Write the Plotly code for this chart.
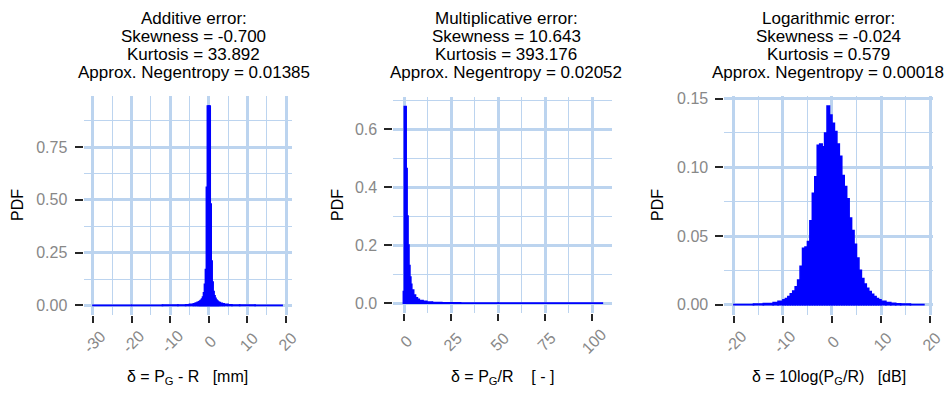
import numpy as np
import plotly.graph_objects as go

# ---------------- data ----------------
# Additive error histogram: bin edges [mm] and density
add_edges = [-30, -20, -12, -8, -6, -5, -4, -3.5, -3, -2.625,
             -2.375, -2.125, -1.875, -1.625, -1.375, -1.125, -0.875, -0.625, -0.375, -0.125,
             0.125, 0.375, 0.625, 0.875, 1.125, 1.375, 1.625, 1.875, 2.125, 2.375,
             2.625, 3, 3.5, 4, 5, 6, 8, 12, 19]
add_density = [0.0003, 0.0006, 0.001, 0.002, 0.003, 0.005, 0.008, 0.011, 0.014,
               0.017, 0.020, 0.024, 0.030, 0.040, 0.060, 0.100, 0.170, 0.560, 0.944,
               0.944, 0.944, 0.480, 0.210, 0.110, 0.065, 0.045, 0.033, 0.025, 0.020, 0.016,
               0.013, 0.010, 0.007, 0.005, 0.003, 0.002, 0.001, 0.0004]

# Multiplicative error histogram: bin edges [-] and density
mul_edges = [-0.5, 0.0, 1.0, 1.5, 2.0, 2.5, 3.0, 3.5, 4.0, 5.0, 6.0, 7.0, 8.0,
             10, 12, 15, 20, 30, 50, 105.5]
mul_density = [0.04, 0.678, 0.464, 0.30, 0.20, 0.13, 0.09, 0.065, 0.045, 0.028,
               0.018, 0.013, 0.009, 0.006, 0.004, 0.002, 0.001, 0.0005, 0.0002]

# Logarithmic error histogram: bin edges [dB] and density
log_edges = [-20, -16, -14, -12, -11, -10,
             -9.5, -9, -8.5, -8, -7.5, -7, -6.5, -6, -5.5, -5, -4.5, -4, -3.5, -3, -2.5,
             -2, -1.5, -1, -0.5, 0, 0.5, 1, 1.5, 2, 2.5, 3, 3.5, 4, 4.5, 5, 5.5, 6, 6.5,
             7, 7.5, 8, 8.5, 9, 9.5, 10, 11, 12, 13, 14, 16, 18.75]
log_density = [0.0002, 0.0004, 0.0008, 0.0015, 0.0025,
               0.0035, 0.0045, 0.006, 0.008, 0.010, 0.013, 0.018, 0.028, 0.041, 0.042,
               0.046, 0.061, 0.081, 0.093, 0.116, 0.117, 0.115, 0.125, 0.1445, 0.138,
               0.132, 0.126, 0.117, 0.108, 0.094, 0.086, 0.077, 0.063, 0.054, 0.044,
               0.034, 0.025, 0.019, 0.015, 0.012, 0.0095, 0.0075, 0.006, 0.0045, 0.0035,
               0.0025, 0.0016, 0.001, 0.0006, 0.0004, 0.0002]

panel_titles = [
    ["Additive error:", "Skewness = -0.700", "Kurtosis = 33.892", "Approx. Negentropy = 0.01385"],
    ["Multiplicative error:", "Skewness = 10.643", "Kurtosis = 393.176", "Approx. Negentropy = 0.02052"],
    ["Logarithmic error:", "Skewness = -0.024", "Kurtosis = 0.579", "Approx. Negentropy = 0.00018"],
]
NB = "\u00a0"
x_titles = [
    "δ = P<sub>G</sub> - R" + NB * 3 + "[mm]",
    "δ = P<sub>G</sub>/R" + NB * 4 + "[ - ]",
    "δ = 10log(P<sub>G</sub>/R)" + NB * 3 + "[dB]",
]
y_title = "PDF"
x_ticks = [[-30, -20, -10, 0, 10, 20], [0, 25, 50, 75, 100], [-20, -10, 0, 10, 20]]
x_tick_labels = [["-30", "-20", "-10", "0", "10", "20"],
                 ["0", "25", "50", "75", "100"],
                 ["-20", "-10", "0", "10", "20"]]
y_ticks = [[0, 0.25, 0.5, 0.75], [0, 0.2, 0.4, 0.6], [0, 0.05, 0.10, 0.15]]
y_tick_labels = [["0.00", "0.25", "0.50", "0.75"],
                 ["0.0", "0.2", "0.4", "0.6"],
                 ["0.00", "0.05", "0.10", "0.15"]]

# ---------------- layout / style ----------------
W, H = 951, 396
FONT = "Liberation Sans, Arial, sans-serif"
GRID = "#BCD4EF"
TICKCOL = "#262626"
LABCOL = "#888888"
BLUE = "#0000FF"

# panel pixel boxes (left, right, top, bottom)
panels_px = [(83.5, 291.6, 91.6, 314.1), (393.4, 612.3, 92.1, 311.7), (724.4, 933.4, 91.6, 313.4)]
title_cx = [193.5, 506.0, 828.0]
title_y0, title_dy = 12.5, 18.5
xlab_y = 341
xtitle_y = 377
ytitle_x = [17.5, 337.5, 657.5]
ytitle_y = 202.5
minor_x = [(-25, 10), (12.5, 25), (-15, 10)]
minor_y = [(0.125, 0.25), (0.1, 0.2), (0.025, 0.05)]

datasets = [(add_edges, add_density), (mul_edges, mul_density), (log_edges, log_density)]

fig = go.Figure()
annotations = []
for i, (edges, dens) in enumerate(datasets):
    e = np.array(edges, dtype=float)
    d = np.array(dens, dtype=float)
    centers = (e[:-1] + e[1:]) / 2
    widths = np.diff(e)
    ax = "" if i == 0 else str(i + 1)
    fig.add_trace(go.Bar(
        x=centers, y=d, width=widths,
        marker=dict(color=BLUE, line=dict(color=BLUE, width=1.6)),
        xaxis="x" + ax, yaxis="y" + ax, showlegend=False, hoverinfo="skip",
    ))
    l, r, t, b = panels_px[i]
    xlo, xhi = e[0], e[-1]
    xpad = 0.05 * (xhi - xlo)
    ymax = d.max()
    fig.layout["xaxis" + ax] = dict(
        domain=[l / W, r / W], range=[xlo - xpad, xhi + xpad], anchor="y" + ax,
        tickmode="array", tickvals=x_ticks[i], showticklabels=False,
        ticks="outside", ticklen=7, tickwidth=2, tickcolor=TICKCOL,
        showgrid=True, gridcolor=GRID, gridwidth=2.8, zeroline=False, showline=False,
        minor=dict(tick0=minor_x[i][0], dtick=minor_x[i][1], showgrid=True,
                   gridcolor=GRID, gridwidth=1.4, ticks=""),
    )
    fig.layout["yaxis" + ax] = dict(
        domain=[1 - b / H, 1 - t / H], range=[-0.05 * ymax, 1.05 * ymax], anchor="x" + ax,
        tickmode="array", tickvals=y_ticks[i], ticktext=y_tick_labels[i],
        ticks="outside", ticklen=8, tickwidth=2, tickcolor=TICKCOL,
        ticklabelstandoff=4,
        tickfont=dict(family=FONT, size=16, color=LABCOL),
        showgrid=True, gridcolor=GRID, gridwidth=2.8, zeroline=False, showline=False,
        minor=dict(tick0=minor_y[i][0], dtick=minor_y[i][1], showgrid=True,
                   gridcolor=GRID, gridwidth=1.4, ticks=""),
    )
    # panel titles
    for k, line in enumerate(panel_titles[i]):
        annotations.append(dict(
            text=line, x=title_cx[i] / W, y=1 - (title_y0 + k * title_dy) / H,
            xref="paper", yref="paper", xanchor="center", yanchor="middle",
            showarrow=False, font=dict(family=FONT, size=17, color="#000000"),
        ))
    # rotated x tick labels
    for v, lab in zip(x_ticks[i], x_tick_labels[i]):
        annotations.append(dict(
            text=lab, x=v, y=1 - xlab_y / H, xref="x" + ax, yref="paper",
            xanchor="center", yanchor="middle", textangle=-45, xshift=2,
            showarrow=False, font=dict(family=FONT, size=16, color=LABCOL),
        ))
    # x title
    annotations.append(dict(
        text=x_titles[i], x=(l + r) / 2 / W, y=1 - xtitle_y / H,
        xref="paper", yref="paper", xanchor="center", yanchor="middle",
        showarrow=False, font=dict(family=FONT, size=16, color="#000000"),
    ))
    # y title
    annotations.append(dict(
        text=y_title, x=ytitle_x[i] / W, y=1 - ytitle_y / H,
        xref="paper", yref="paper", xanchor="center", yanchor="middle", textangle=-90,
        showarrow=False, font=dict(family=FONT, size=16, color="#000000"),
    ))

fig.update_layout(
    width=W, height=H, autosize=False,
    margin=dict(l=0, r=0, t=0, b=0, pad=0),
    paper_bgcolor="white", plot_bgcolor="white",
    barmode="overlay", annotations=annotations,
    font=dict(family=FONT),
)
fig.write_html("out.html", config={"displayModeBar": False})
